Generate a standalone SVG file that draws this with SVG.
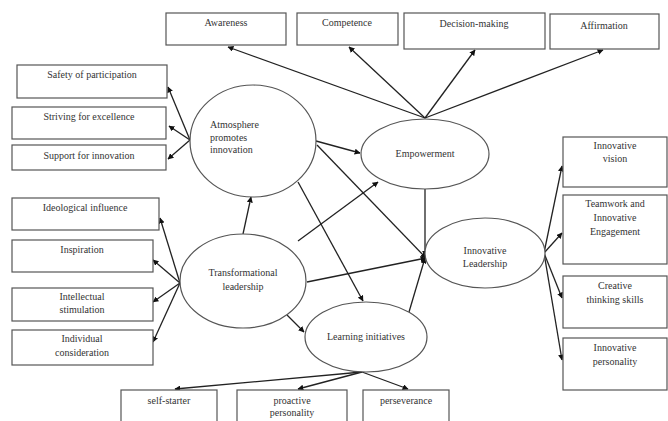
<svg xmlns="http://www.w3.org/2000/svg" width="668" height="421" viewBox="0 0 668 421">
<style>
.box{fill:#fff;stroke:#555;stroke-width:1.2}
.ell{fill:#fff;stroke:#555;stroke-width:1.2}
.t{font-family:"Liberation Serif","Times New Roman",serif;font-size:10px;fill:#333;text-anchor:middle}
.tl{font-family:"Liberation Serif","Times New Roman",serif;font-size:10px;fill:#333}
.c{stroke:#222;stroke-width:1.3;fill:none;marker-end:url(#ah)}
</style>
<defs>
<marker id="ah" viewBox="0 0 10 10" refX="9" refY="5" markerWidth="6" markerHeight="6" markerUnits="userSpaceOnUse" orient="auto">
<path d="M0,0 L10,5 L0,10 z" fill="#111"/>
</marker>
</defs>
<rect width="668" height="421" fill="#fff"/>
<g id="connectors">
<line class="c" x1="425" y1="118" x2="228" y2="47"/>
<line class="c" x1="425" y1="118" x2="349" y2="47"/>
<line class="c" x1="425" y1="118" x2="475" y2="50"/>
<line class="c" x1="425" y1="118" x2="603" y2="50"/>
<line class="c" x1="190" y1="140" x2="168" y2="87"/>
<line class="c" x1="190" y1="140" x2="169" y2="126"/>
<line class="c" x1="190" y1="140" x2="168" y2="159"/>
<line class="c" x1="180" y1="283" x2="160" y2="218"/>
<line class="c" x1="180" y1="283" x2="153" y2="260"/>
<line class="c" x1="180" y1="283" x2="153" y2="302"/>
<line class="c" x1="180" y1="283" x2="153" y2="342"/>
<line class="c" x1="544" y1="253" x2="562" y2="166"/>
<line class="c" x1="544" y1="253" x2="562" y2="233"/>
<line class="c" x1="544" y1="253" x2="562" y2="298"/>
<line class="c" x1="544" y1="253" x2="562" y2="360"/>
<line class="c" x1="362" y1="372" x2="175" y2="389"/>
<line class="c" x1="362" y1="372" x2="298" y2="389"/>
<line class="c" x1="362" y1="372" x2="408" y2="389"/>
<line class="c" x1="316" y1="141" x2="360" y2="153"/>
<line class="c" x1="243" y1="234" x2="251" y2="197"/>
<line class="c" x1="298" y1="241" x2="378" y2="182"/>
<line class="c" x1="298" y1="182" x2="363" y2="301"/>
<line class="c" x1="317" y1="145" x2="426" y2="258"/>
<line class="c" x1="307" y1="282" x2="426" y2="258"/>
<line class="c" x1="425" y1="189" x2="425" y2="256"/>
<line class="c" x1="409" y1="312" x2="425" y2="258"/>
<line class="c" x1="287" y1="315" x2="304" y2="332"/>
</g>
<g id="awareness"><rect class="box" x="166" y="13" width="120" height="32"/><text class="t" x="226" y="26">Awareness</text></g>
<g id="competence"><rect class="box" x="297" y="13" width="101" height="32"/><text class="t" x="347" y="26">Competence</text></g>
<g id="decision-making"><rect class="box" x="404" y="13" width="141" height="36"/><text class="t" x="474" y="27">Decision-making</text></g>
<g id="affirmation"><rect class="box" x="550" y="14" width="109" height="35"/><text class="t" x="604" y="29">Affirmation</text></g>
<g id="safety"><rect class="box" x="17" y="65" width="150" height="33"/><text class="t" x="92" y="78">Safety of participation</text></g>
<g id="striving"><rect class="box" x="12" y="107" width="154" height="32"/><text class="t" x="89" y="120">Striving for excellence</text></g>
<g id="support"><rect class="box" x="12" y="145" width="154" height="25"/><text class="t" x="89" y="159">Support for innovation</text></g>
<g id="ideological"><rect class="box" x="12" y="198" width="147" height="32"/><text class="t" x="85" y="211">Ideological influence</text></g>
<g id="inspiration"><rect class="box" x="12" y="240" width="141" height="32"/><text class="t" x="82" y="253">Inspiration</text></g>
<g id="intellectual"><rect class="box" x="12" y="288" width="141" height="33"/><text class="t" x="82" y="300">Intellectual</text><text class="t" x="82" y="313">stimulation</text></g>
<g id="individual"><rect class="box" x="12" y="330" width="141" height="35"/><text class="t" x="82" y="342">Individual</text><text class="t" x="82" y="356">consideration</text></g>
<g id="vision"><rect class="box" x="563" y="137" width="104" height="50"/><text class="t" x="615" y="149">Innovative</text><text class="t" x="615" y="162">vision</text></g>
<g id="teamwork"><rect class="box" x="563" y="195" width="104" height="69"/><text class="t" x="615" y="207">Teamwork and</text><text class="t" x="615" y="221">Innovative</text><text class="t" x="615" y="235">Engagement</text></g>
<g id="creative"><rect class="box" x="563" y="276" width="104" height="52"/><text class="t" x="615" y="289">Creative</text><text class="t" x="615" y="303">thinking skills</text></g>
<g id="personality"><rect class="box" x="563" y="338" width="104" height="52"/><text class="t" x="615" y="351">Innovative</text><text class="t" x="615" y="365">personality</text></g>
<g id="self-starter"><rect class="box" x="121" y="390" width="96" height="40"/><text class="t" x="169" y="404">self-starter</text></g>
<g id="proactive"><rect class="box" x="237" y="390" width="110" height="40"/><text class="t" x="292" y="404">proactive</text><text class="t" x="292" y="416">personality</text></g>
<g id="perseverance"><rect class="box" x="363" y="390" width="86" height="40"/><text class="t" x="406" y="404">perseverance</text></g>
<g id="atmosphere"><ellipse class="ell" cx="253" cy="141" rx="63" ry="56"/><text class="tl" x="210" y="128">Atmosphere</text><text class="tl" x="210" y="141">promotes</text><text class="tl" x="210" y="153">innovation</text></g>
<g id="empowerment"><ellipse class="ell" cx="425" cy="154" rx="64" ry="35"/><text class="t" x="425" y="157">Empowerment</text></g>
<g id="transformational"><ellipse class="ell" cx="243" cy="281" rx="63" ry="47"/><text class="t" x="243" y="276">Transformational</text><text class="t" x="243" y="290">leadership</text></g>
<g id="learning"><ellipse class="ell" cx="366" cy="337" rx="61" ry="35"/><text class="t" x="366" y="340">Learning initiatives</text></g>
<g id="innovative-leadership"><ellipse class="ell" cx="485" cy="253" rx="60" ry="35"/><text class="t" x="485" y="254">Innovative</text><text class="t" x="485" y="267">Leadership</text></g>
</svg>
